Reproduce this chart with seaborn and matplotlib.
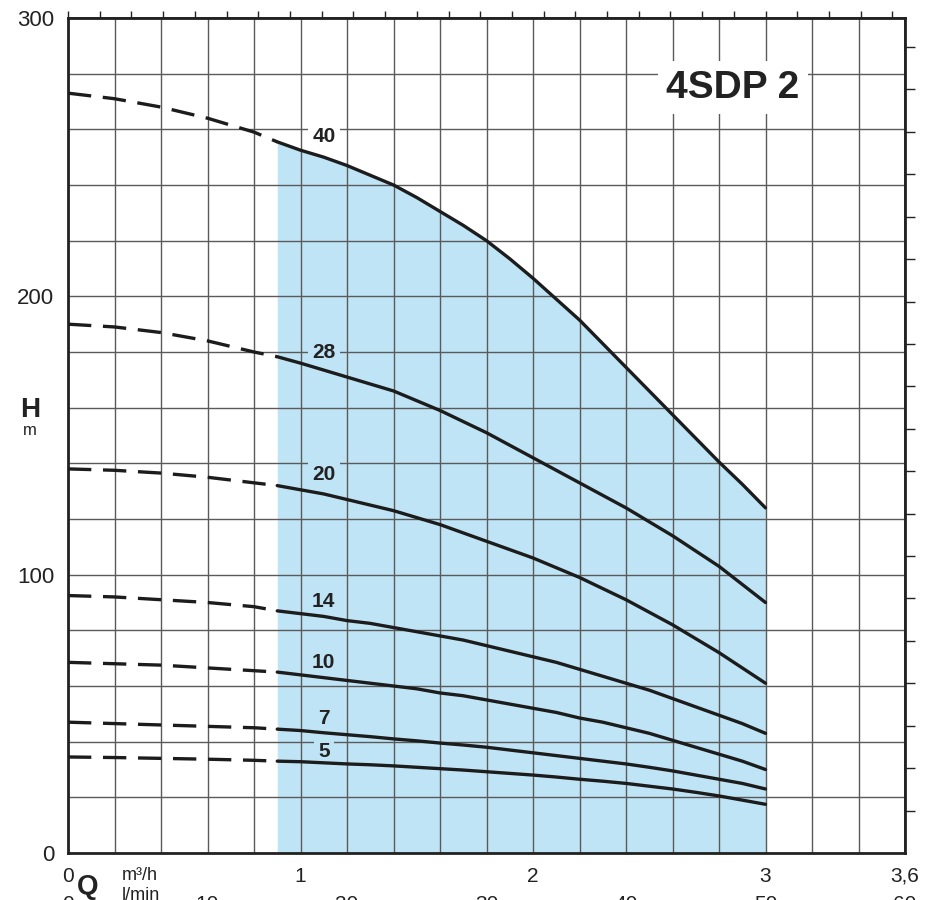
import matplotlib
matplotlib.use("Agg")
import matplotlib.pyplot as plt
import seaborn as sns
import pandas as pd

# flow in m3/h at which the curves were read
q_points = [0, 0.2, 0.4, 0.6, 0.8, 0.9, 1.0, 1.1, 1.2, 1.3, 1.4, 1.5, 1.6, 1.7, 1.8, 1.9,
            2.0, 2.1, 2.2, 2.3, 2.4, 2.5, 2.6, 2.7, 2.8, 2.9, 3.0]

# head in m for each stage count
curves = {
    "40": [273, 271, 268, 264, 259, 255.5, 252.5, 250, 247, 243.5, 240, 235.5, 230.5, 225.5, 220,
           213.5, 206.5, 199, 191.5, 183, 174.5, 166, 157.5, 149, 140.5, 132.5, 124],
    "28": [190, 189, 187, 184, 180, 178.3, 176, 173.5, 171, 168.5, 166, 162.5, 159, 155, 151,
           146.5, 142, 137.5, 133, 128.5, 124, 119, 114, 108.5, 103, 96.5, 90],
    "20": [138, 137.5, 136.5, 135, 133, 132, 130.5, 129, 127, 125, 123, 120.5, 118, 115, 112,
           109, 106, 102.5, 99, 95, 91, 86.5, 82, 77, 72, 66.5, 61],
    "14": [92.5, 92, 91, 90, 88.5, 87, 86, 85, 83.5, 82.5, 81, 79.5, 78, 76.5, 74.5,
           72.5, 70.5, 68.5, 66, 63.5, 61, 58.5, 55.5, 52.5, 49.5, 46.5, 43],
    "10": [68.5, 68, 67.5, 66.5, 65.5, 65, 64, 63, 62, 61, 60, 59, 57.5, 56.5, 55,
           53.5, 52, 50.5, 48.5, 47, 45, 43, 40.5, 38, 35.5, 33, 30],
    "7": [47, 46.5, 46, 45.5, 45, 44.5, 44, 43.2, 42.5, 41.8, 41, 40.3, 39.5, 38.8, 38,
          37, 36, 35, 34, 33, 32, 30.8, 29.5, 28, 26.5, 25, 23],
    "5": [34.5, 34.3, 34, 33.7, 33.3, 33, 32.8, 32.4, 32, 31.7, 31.3, 30.8, 30.3, 29.8, 29.2,
          28.6, 28, 27.3, 26.5, 25.8, 25, 24, 23, 21.8, 20.5, 19, 17.5],
}
label_pos = {"40": 257.5, "28": 180, "20": 136, "14": 90.5, "10": 68.5, "7": 48.5, "5": 36.3}

q_work_start = 0.9
x_ticks = [0, 1, 2, 3, 3.6]
x_labels = ["0", "1", "2", "3", "3,6"]
y_ticks = [0, 100, 200, 300]
lmin_ticks = [0, 10, 20, 30, 40, 50, 60]

df = pd.DataFrame(curves)
df["Q"] = q_points

sns.set_theme(style="white")
plt.rcParams["font.family"] = ["Liberation Sans", "DejaVu Sans"]

fig = plt.figure(figsize=(9.3, 9.0), dpi=100)
ax = fig.add_axes([68 / 930, 47 / 900, 837 / 930, 835 / 900])

fill_color = "#bfe4f6"
line_color = "#1c1c1c"
text_color = "#222222"

# working range shading under the biggest curve
work = df[df["Q"] >= q_work_start]
ax.fill_between(work["Q"], 0, work["40"], color=fill_color, lw=0, zorder=0)

dash = df[df["Q"] <= q_work_start]
solid = df[df["Q"] >= q_work_start]
for name in curves:
    sns.lineplot(x=dash["Q"], y=dash[name], ax=ax, color=line_color, lw=2.4,
                 linestyle=(0, (7, 3.5)), zorder=4)
    sns.lineplot(x=solid["Q"], y=solid[name], ax=ax, color=line_color, lw=2.4, zorder=4)
    bg = "white" if name == "40" else fill_color
    ax.text(1.1, label_pos[name], name, fontsize=15, fontweight="bold", color=text_color,
            ha="center", va="center", zorder=3,
            bbox=dict(facecolor=bg, edgecolor="none", pad=3))

ax.text(2.86, 275, "4SDP 2", fontsize=28, fontweight="bold", color=text_color,
        ha="center", va="center", zorder=3,
        bbox=dict(facecolor="white", edgecolor="none", pad=6))

ax.set_xlim(0, 3.6)
ax.set_ylim(0, 300)
ax.set_xlabel("")
ax.set_ylabel("")
ax.set_xticks(x_ticks)
ax.set_xticklabels(x_labels, fontsize=15, color=text_color)
ax.set_yticks(y_ticks)
ax.set_yticklabels([str(v) for v in y_ticks], fontsize=16, color=text_color)
ax.set_xticks([i * 0.2 for i in range(19)], minor=True)
ax.set_yticks(list(range(0, 301, 20)), minor=True)
ax.tick_params(which="major", direction="out", length=6, width=1.2, color=text_color, pad=4)
ax.tick_params(which="minor", length=0)
ax.grid(which="minor", color="#5a5a5a", lw=1.0, zorder=1)
ax.grid(which="major", color="#5a5a5a", lw=1.0, zorder=1)
ax.set_axisbelow(True)
for s in ax.spines.values():
    s.set_color(text_color)
    s.set_linewidth(2.0)

# l/min row under the m3/h row (cut by the page edge, as in the source)
sec = ax.secondary_xaxis("bottom", functions=(lambda q: q * 1000 / 60, lambda l: l * 60 / 1000))
sec.set_xticks(lmin_ticks)
sec.set_xticklabels([str(v) for v in lmin_ticks], fontsize=15, color=text_color)
sec.tick_params(length=0, pad=30)
sec.spines["bottom"].set_visible(False)

# Imp gpm ticks on top, feet ticks on right (labels fall outside the page)
top = ax.secondary_xaxis("top", functions=(lambda q: q * 1000 / 60 / 4.54609,
                                           lambda g: g * 4.54609 * 60 / 1000))
top.set_xticks([i * 0.5 for i in range(27)])
top.set_xticklabels([])
top.tick_params(length=5, width=1.0, color=text_color)
right = ax.secondary_yaxis("right", functions=(lambda m: m / 0.3048, lambda f: f * 0.3048))
right.set_yticks(list(range(50, 1000, 50)))
right.set_yticklabels([])
right.tick_params(length=7, width=1.0, color=text_color)

fig.text(30 / 930, 1 - 410 / 900, "H", fontsize=20, fontweight="bold", color=text_color,
         ha="center", va="center")
fig.text(30 / 930, 1 - 430 / 900, "m", fontsize=12, color=text_color, ha="center", va="center")
fig.text(88 / 930, 1 - 887 / 900, "Q", fontsize=20, fontweight="bold", color=text_color,
         ha="center", va="center")
fig.text(122 / 930, 1 - 876 / 900, "m³/h", fontsize=13, color=text_color,
         ha="left", va="center")
fig.text(122 / 930, 1 - 896 / 900, "l/min", fontsize=13, color=text_color,
         ha="left", va="center")

fig.savefig("out.png", dpi=100)
